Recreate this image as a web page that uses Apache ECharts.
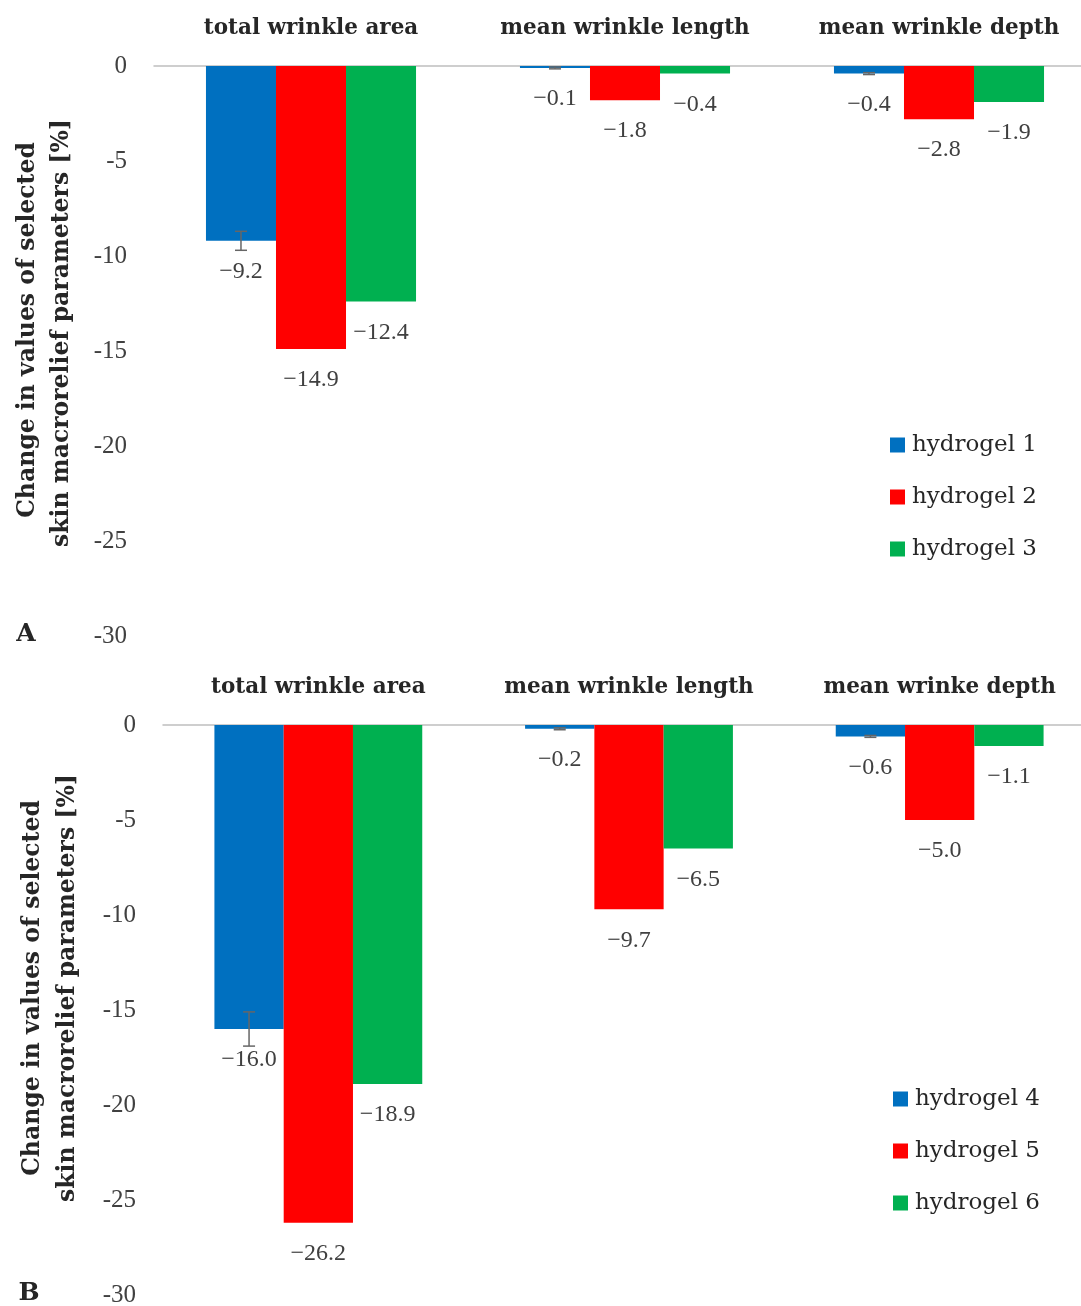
<!DOCTYPE html>
<html>
<head>
<meta charset="utf-8">
<script src="https://cdn.jsdelivr.net/npm/echarts@6/dist/echarts.min.js"></script>
<style>
  html, body { margin: 0; padding: 0; background: #fff; }
  #chart { width: 1081px; height: 1306px; }
</style>
</head>
<body>
<div id="chart"></div>
<script>
// data
const categoriesA = ['total wrinkle area', 'mean wrinkle length', 'mean wrinkle depth']
const categoriesB = ['total wrinkle area', 'mean wrinkle length', 'mean wrinke depth']
const hydrogel1 = [-9.2, -0.1, -0.4]
const hydrogel2 = [-14.9, -1.8, -2.8]
const hydrogel3 = [-12.4, -0.4, -1.9]
const hydrogel4 = [-16.0, -0.2, -0.6]
const hydrogel5 = [-26.2, -9.7, -5.0]
const hydrogel6 = [-18.9, -6.5, -1.1]
const errA = [0.5, 0.05, 0.05]
const errB = [0.9, 0.05, 0.05]
const yTicks = [0, -5, -10, -15, -20, -25, -30]

const blue = '#0070C0'
const red = '#FF0000'
const green = '#00B050'
const textFont = 'DejaVu Serif'
const numFont = 'Liberation Serif'
const BAR_FRAC = 0.223

const chart = echarts.init(document.getElementById('chart'))

function errorSeries(gridIdx, values, errs) {
  return {
    type: 'custom',
    xAxisIndex: gridIdx,
    yAxisIndex: gridIdx,
    silent: true,
    z: 5,
    data: errs.map((e, i) => [i, values[i], e]),
    renderItem: function (params, api) {
      const cat = api.value(0)
      const val = api.value(1)
      const err = api.value(2)
      const bandW = api.size([1, 0])[0]
      const x = api.coord([cat, val])[0] - bandW * BAR_FRAC
      const y1 = api.coord([cat, val + err])[1]
      const y2 = api.coord([cat, val - err])[1]
      const cap = 6
      const st = { stroke: '#666', lineWidth: 1.5 }
      return {
        type: 'group',
        children: [
          { type: 'line', shape: { x1: x, y1: y1, x2: x, y2: y2 }, style: st },
          { type: 'line', shape: { x1: x - cap, y1: y1, x2: x + cap, y2: y1 }, style: st },
          { type: 'line', shape: { x1: x - cap, y1: y2, x2: x + cap, y2: y2 }, style: st }
        ]
      }
    }
  }
}

function barSeries(name, gridIdx, data, color) {
  return {
    name: name,
    type: 'bar',
    xAxisIndex: gridIdx,
    yAxisIndex: gridIdx,
    data: data,
    barWidth: (BAR_FRAC * 100) + '%',
    barGap: '0%',
    itemStyle: { color: color },
    label: {
      show: true,
      position: 'bottom',
      distance: 19,
      fontFamily: numFont,
      fontSize: 24,
      color: '#404040',
      formatter: p => '\u2212' + Math.abs(p.value).toFixed(1)
    }
  }
}

function xAxisOf(gridIdx, cats) {
  return {
    type: 'category',
    gridIndex: gridIdx,
    position: 'top',
    data: cats,
    axisLine: { show: true, onZero: false, lineStyle: { color: '#bfbfbf', width: 1.5 } },
    axisTick: { show: false },
    axisLabel: {
      interval: 0,
      margin: 27,
      fontFamily: textFont,
      fontWeight: 'bold',
      fontSize: 21.5,
      color: '#262626'
    }
  }
}

function yAxisOf(gridIdx) {
  return {
    type: 'value',
    gridIndex: gridIdx,
    min: -30,
    max: 0,
    interval: 5,
    axisLine: { show: false },
    axisTick: { show: false },
    splitLine: { show: false },
    axisLabel: {
      margin: 27,
      fontFamily: numFont,
      fontSize: 25,
      color: '#404040',
      customValues: yTicks
    }
  }
}

function legendOf(names, top, left) {
  return {
    data: names,
    orient: 'vertical',
    left: left,
    top: top,
    itemWidth: 15,
    itemHeight: 15,
    itemGap: 28,
    icon: 'rect',
    selectedMode: false,
    textStyle: { fontFamily: textFont, fontSize: 23, lineHeight: 24, color: '#262626', padding: [0, 0, 0, 2] }
  }
}

function titleText(text, x, y) {
  return {
    type: 'text',
    x: x,
    y: y,
    rotation: Math.PI / 2,
    style: {
      text: text,
      fontFamily: textFont,
      fontWeight: 'bold',
      fontSize: 23.5,
      fill: '#262626',
      textAlign: 'center',
      textVerticalAlign: 'middle'
    }
  }
}

const option = {
  animation: false,
  backgroundColor: '#fff',
  grid: [
    { left: 154, width: 942, top: 66, height: 570, outerBoundsMode: 'none', containLabel: false },
    { left: 163, width: 932, top: 725, height: 570, outerBoundsMode: 'none', containLabel: false }
  ],
  xAxis: [xAxisOf(0, categoriesA), xAxisOf(1, categoriesB)],
  yAxis: [yAxisOf(0), yAxisOf(1)],
  legend: [
    legendOf(['hydrogel 1', 'hydrogel 2', 'hydrogel 3'], 428, 885),
    legendOf(['hydrogel 4', 'hydrogel 5', 'hydrogel 6'], 1082, 888)
  ],
  graphic: [
    titleText('Change in values of selected', 28, 330),
    titleText('skin macrorelief parameters [%]', 62, 333),
    titleText('Change in values of selected', 33, 988),
    titleText('skin macrorelief parameters [%]', 68, 988),
    { type: 'text', x: 26, y: 634, style: { text: 'A', fontFamily: textFont, fontWeight: 'bold', fontSize: 25, fill: '#262626', textAlign: 'center', textVerticalAlign: 'middle' } },
    { type: 'text', x: 29, y: 1293, style: { text: 'B', fontFamily: textFont, fontWeight: 'bold', fontSize: 25, fill: '#262626', textAlign: 'center', textVerticalAlign: 'middle' } }
  ],
  series: [
    barSeries('hydrogel 1', 0, hydrogel1, blue),
    barSeries('hydrogel 2', 0, hydrogel2, red),
    barSeries('hydrogel 3', 0, hydrogel3, green),
    errorSeries(0, hydrogel1, errA),
    barSeries('hydrogel 4', 1, hydrogel4, blue),
    barSeries('hydrogel 5', 1, hydrogel5, red),
    barSeries('hydrogel 6', 1, hydrogel6, green),
    errorSeries(1, hydrogel4, errB)
  ]
}

chart.setOption(option)
</script>
</body>
</html>
